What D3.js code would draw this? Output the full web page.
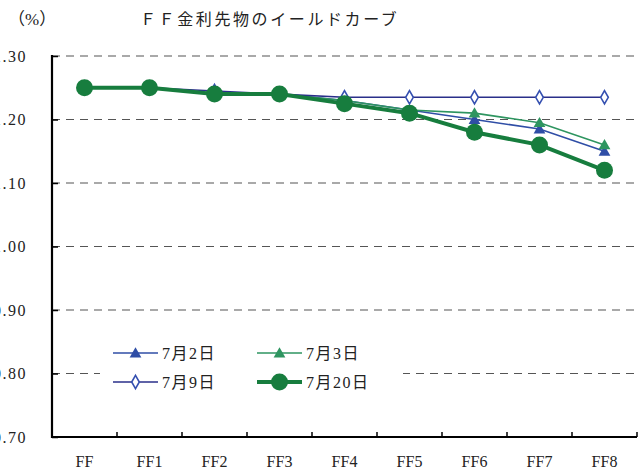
<!DOCTYPE html>
<html>
<head>
<meta charset="utf-8">
<script src="https://cdn.jsdelivr.net/npm/d3@7"></script>
<style>
  body { margin: 0; background: #fff; }
</style>
</head>
<body>
<div id="chart"></div>
<script>
// FF futures yield curve (%)
const categories = ['FF', 'FF1', 'FF2', 'FF3', 'FF4', 'FF5', 'FF6', 'FF7', 'FF8'];
const yTicks = [0.70, 0.80, 0.90, 1.00, 1.10, 1.20, 1.30];

const jul2  = [1.25, 1.25, 1.24, 1.24, 1.23, 1.215, 1.20, 1.185, 1.15];
const jul3  = [1.25, 1.25, 1.24, 1.24, 1.23, 1.215, 1.21, 1.195, 1.16];
const jul9  = [1.25, 1.25, 1.245, 1.24, 1.235, 1.235, 1.235, 1.235, 1.235];
const jul20 = [1.25, 1.25, 1.24, 1.24, 1.225, 1.21, 1.18, 1.16, 1.12];

const seriesNames = ['7月2日', '7月3日', '7月9日', '7月20日'];

const series = [
  { name: seriesNames[0], values: jul2,  color: '#2f4ea6', width: 1.6, marker: 'tri',  fill: '#2f4ea6' },
  { name: seriesNames[1], values: jul3,  color: '#2e9560', width: 1.6, marker: 'tri',  fill: '#2e9560' },
  { name: seriesNames[2], values: jul9,  color: '#2a2f8a', width: 1.6, marker: 'dia',  fill: '#fff' },
  { name: seriesNames[3], values: jul20, color: '#177d3e', width: 4,   marker: 'circ', fill: '#177d3e' }
];

const FONT = '"Liberation Serif", "DejaVu Serif", "Noto Sans CJK JP", serif';
const W = 640, H = 470;
const plotL = 52, plotR = 637, plotT = 56, plotB = 437;

const svg = d3.select('#chart').append('svg')
  .attr('width', W).attr('height', H)
  .attr('font-family', FONT);

const x = d3.scalePoint().domain(categories).range([plotL, plotR]).padding(0.5);
const band = (plotR - plotL) / categories.length;
const y = d3.scaleLinear().domain([0.70, 1.30]).range([plotB, plotT]);

// dashed gridlines
svg.append('g').selectAll('line')
  .data(yTicks.filter(d => d > 0.7))
  .join('line')
  .attr('x1', plotL).attr('x2', plotR)
  .attr('y1', d => y(d)).attr('y2', d => y(d))
  .attr('stroke', '#555').attr('stroke-width', 1.2)
  .attr('stroke-dasharray', '8,6');

// y axis
const yAxis = d3.axisRight(y).tickValues(yTicks).tickSize(6).tickFormat('');
const gy = svg.append('g').attr('transform', `translate(${plotL},0)`).call(yAxis);
gy.select('.domain').remove();
gy.selectAll('.tick line').attr('stroke', '#000').attr('stroke-width', 1.5);
svg.append('line').attr('x1', plotL).attr('x2', plotL).attr('y1', plotT - 1).attr('y2', plotB + 1)
  .attr('stroke', '#000').attr('stroke-width', 2.2);

svg.append('g').selectAll('text')
  .data(yTicks)
  .join('text')
  .attr('x', 27).attr('y', d => y(d) + 5.5)
  .attr('text-anchor', 'end')
  .attr('font-size', 16).attr('letter-spacing', 1.5).attr('fill', '#222')
  .text(d => d.toFixed(2));

// x axis
const xTickPos = d3.range(categories.length + 1).map(i => plotL + i * band);
svg.append('g').selectAll('line')
  .data(xTickPos.slice(1))
  .join('line')
  .attr('x1', d => d).attr('x2', d => d)
  .attr('y1', plotB).attr('y2', plotB - 5)
  .attr('stroke', '#000').attr('stroke-width', 1.5);
svg.append('line').attr('x1', plotL - 1).attr('x2', plotR).attr('y1', plotB).attr('y2', plotB)
  .attr('stroke', '#000').attr('stroke-width', 2.2);

svg.append('g').selectAll('text')
  .data(categories)
  .join('text')
  .attr('x', d => x(d)).attr('y', 467)
  .attr('text-anchor', 'middle')
  .attr('font-size', 16).attr('fill', '#222')
  .text(d => d);

// title and unit
svg.append('text').attr('x', 8).attr('y', 25).attr('font-size', 17).attr('fill', '#222').text('（%）');
svg.append('text').attr('x', 140).attr('y', 25).attr('font-size', 16).attr('fill', '#222')
  .attr('letter-spacing', 2.6).text('ＦＦ金利先物のイールドカーブ');

// legend background hides gridline
svg.append('rect').attr('x', 100).attr('y', 334).attr('width', 303).attr('height', 64).attr('fill', '#fff');

function drawMarker(g, type, cx, cy, s) {
  if (type === 'circ') {
    g.append('circle').attr('cx', cx).attr('cy', cy).attr('r', 8.5)
      .attr('fill', s.fill);
  } else if (type === 'tri') {
    g.append('path').attr('d', d3.symbol(d3.symbolTriangle, 60)())
      .attr('transform', `translate(${cx},${cy + 1})`)
      .attr('fill', s.fill);
  } else {
    g.append('path').attr('d', d3.symbol(d3.symbolDiamond, 50)())
      .attr('transform', `translate(${cx},${cy})`)
      .attr('fill', '#fff').attr('stroke', '#3550b0').attr('stroke-width', 1.6);
  }
}

const line = d3.line().x((d, i) => x(categories[i])).y(d => y(d));

series.forEach(s => {
  const g = svg.append('g');
  g.append('path').attr('d', line(s.values))
    .attr('fill', 'none').attr('stroke', s.color).attr('stroke-width', s.width);
  s.values.forEach((v, i) => drawMarker(g, s.marker, x(categories[i]), y(v), s));
});

// legend
const legPos = [[113, 353], [257, 353], [113, 382], [257, 382]];
series.forEach((s, k) => {
  const [lx, ly] = legPos[k];
  const g = svg.append('g');
  g.append('line').attr('x1', lx).attr('x2', lx + 45).attr('y1', ly).attr('y2', ly)
    .attr('stroke', s.color).attr('stroke-width', s.width);
  drawMarker(g, s.marker, lx + 22.5, ly, s);
  g.append('text').attr('x', lx + 49).attr('y', ly + 5.5)
    .attr('font-size', 16).attr('letter-spacing', 1.5).attr('fill', '#222').text(s.name);
});
</script>
</body>
</html>
